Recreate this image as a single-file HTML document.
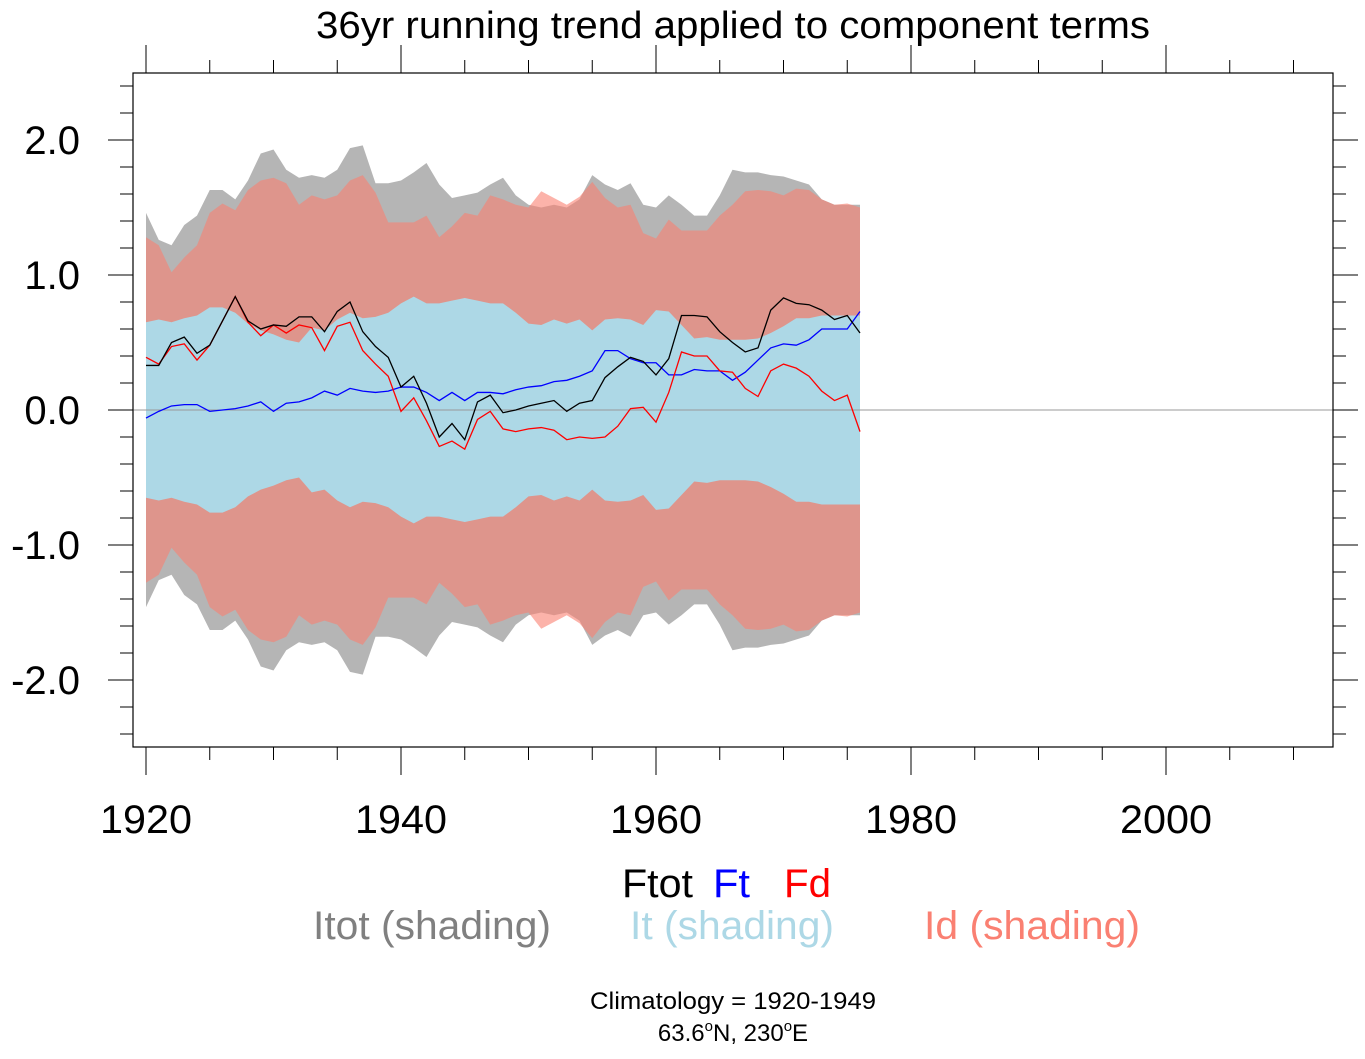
<!DOCTYPE html>
<html><head><meta charset="utf-8"><style>
body{margin:0;background:#fff;width:1365px;height:1054px;overflow:hidden}
svg text{font-family:"Liberation Sans",sans-serif}
</style></head><body>
<svg id="chart" width="1365" height="1054" xmlns="http://www.w3.org/2000/svg">
<text x="733" y="38" font-size="38" text-anchor="middle" textLength="834" lengthAdjust="spacingAndGlyphs">36yr running trend applied to component terms</text>
<g id="bands"></g>
<g id="lines"></g>
<g id="axes"></g>
<g font-size="40">
<text x="622" y="897" fill="#000" textLength="71" lengthAdjust="spacingAndGlyphs">Ftot</text>
<text x="713" y="897" fill="#0000ff" textLength="37" lengthAdjust="spacingAndGlyphs">Ft</text>
<text x="784" y="897" fill="#ff0000" textLength="47" lengthAdjust="spacingAndGlyphs">Fd</text>
<text x="313" y="939" fill="#808080" textLength="238" lengthAdjust="spacingAndGlyphs">Itot (shading)</text>
<text x="630" y="939" fill="#add8e6" textLength="204" lengthAdjust="spacingAndGlyphs">It (shading)</text>
<text x="924" y="939" fill="#fa8072" textLength="216" lengthAdjust="spacingAndGlyphs">Id (shading)</text>
</g>
<text x="733" y="1009" font-size="24" text-anchor="middle" textLength="286" lengthAdjust="spacingAndGlyphs">Climatology = 1920-1949</text>
<text x="733" y="1041" font-size="24" text-anchor="middle">63.6<tspan font-size="15" dy="-10">o</tspan><tspan dy="10">N, 230</tspan><tspan font-size="15" dy="-10">o</tspan><tspan dy="10">E</tspan></text>
</svg>
<script>
const startYear = 1920;
const itot = [1.46,1.26,1.22,1.37,1.44,1.63,1.63,1.56,1.70,1.90,1.93,1.78,1.72,1.74,1.72,1.78,1.94,1.96,1.68,1.68,1.70,1.76,1.83,1.67,1.57,1.59,1.61,1.67,1.72,1.59,1.52,1.50,1.52,1.50,1.56,1.74,1.67,1.63,1.68,1.52,1.50,1.59,1.52,1.44,1.44,1.59,1.78,1.76,1.76,1.74,1.73,1.70,1.67,1.56,1.52,1.52,1.52];
const idv = [1.28,1.22,1.02,1.13,1.22,1.46,1.53,1.48,1.63,1.70,1.72,1.68,1.52,1.59,1.56,1.59,1.70,1.74,1.61,1.39,1.39,1.39,1.44,1.28,1.36,1.46,1.44,1.59,1.56,1.52,1.50,1.62,1.57,1.52,1.58,1.69,1.57,1.50,1.52,1.31,1.27,1.41,1.33,1.33,1.33,1.44,1.52,1.62,1.63,1.62,1.59,1.64,1.63,1.56,1.52,1.53,1.50];
const itv = [0.65,0.67,0.65,0.68,0.70,0.76,0.76,0.72,0.64,0.59,0.56,0.52,0.50,0.61,0.59,0.67,0.72,0.68,0.69,0.72,0.79,0.84,0.79,0.79,0.81,0.83,0.81,0.79,0.79,0.72,0.64,0.63,0.67,0.64,0.67,0.59,0.67,0.68,0.67,0.63,0.74,0.73,0.63,0.53,0.54,0.52,0.52,0.52,0.53,0.57,0.62,0.68,0.68,0.70,0.70,0.70,0.70];
const ftot = [0.33,0.33,0.50,0.54,0.42,0.48,0.66,0.84,0.66,0.60,0.63,0.62,0.69,0.69,0.58,0.73,0.80,0.58,0.47,0.39,0.17,0.25,0.05,-0.20,-0.10,-0.22,0.06,0.11,-0.02,0,0.03,0.05,0.07,-0.01,0.05,0.07,0.24,0.32,0.39,0.36,0.26,0.38,0.70,0.70,0.69,0.58,0.50,0.43,0.46,0.74,0.83,0.79,0.78,0.74,0.67,0.70,0.57];
const ft = [-0.06,-0.01,0.03,0.04,0.04,-0.01,0,0.01,0.03,0.06,-0.01,0.05,0.06,0.09,0.14,0.11,0.16,0.14,0.13,0.14,0.17,0.17,0.13,0.07,0.13,0.07,0.13,0.13,0.12,0.15,0.17,0.18,0.21,0.22,0.25,0.29,0.44,0.44,0.38,0.35,0.35,0.26,0.26,0.30,0.29,0.29,0.22,0.28,0.37,0.46,0.49,0.48,0.52,0.60,0.60,0.60,0.73];
const fd = [0.39,0.34,0.47,0.49,0.37,0.48,0.66,0.84,0.65,0.55,0.63,0.57,0.63,0.61,0.44,0.62,0.65,0.44,0.34,0.25,-0.01,0.09,-0.08,-0.27,-0.23,-0.29,-0.07,-0.01,-0.14,-0.16,-0.14,-0.13,-0.15,-0.22,-0.20,-0.21,-0.20,-0.12,0.01,0.02,-0.09,0.13,0.43,0.40,0.40,0.29,0.28,0.16,0.10,0.29,0.34,0.31,0.25,0.14,0.07,0.11,-0.16];
const yTicks = [-2.0,-1.0,0.0,1.0,2.0];
const yTickLabels = ["-2.0","-1.0","0.0","1.0","2.0"];
const xTicks = [1920,1940,1960,1980,2000];

const L=133,R=1333,T=73,B=747;
const X = yr => 146 + (yr-1920)*12.75;
const Y = v => 410 - v*135;
const NS='http://www.w3.org/2000/svg';
function mk(tag, attrs, parent){const e=document.createElementNS(NS,tag);for(const k in attrs)e.setAttribute(k,attrs[k]);parent.appendChild(e);return e;}
const bands=document.getElementById('bands'), lines=document.getElementById('lines'), axes=document.getElementById('axes');
function band(arr){
  const up=arr.map((v,i)=>X(startYear+i)+','+Y(v));
  const dn=arr.map((v,i)=>X(startYear+i)+','+Y(-v)).reverse();
  return up.concat(dn).join(' ');
}
let p=mk('polygon',{points:band(itot),fill:'#b5b5b5'},bands);


p=mk('polygon',{points:band(idv),fill:'#fa8072','fill-opacity':'0.6'},bands);


p=mk('polygon',{points:band(itv),fill:'#add8e6'},bands);


let z=mk('line',{x1:L,x2:1357,y1:Y(0),y2:Y(0),stroke:'#999','stroke-width':1},lines);


function line(arr,color,name){
  const e=mk('polyline',{points:arr.map((v,i)=>X(startYear+i)+','+Y(v)).join(' '),fill:'none',stroke:color,'stroke-width':1.3},lines);
  
  
}
line(ft,'#0000ff','ft-line');
line(fd,'#ff0000','fd-line');
line(ftot,'#000000','ftot-line');
let fr=mk('rect',{x:L,y:T,width:R-L,height:B-T,fill:'none',stroke:'#000','stroke-width':1.2},axes);


for(let k=-12;k<=12;k++){
  const v=k*0.2, y=Y(v); if(y<T-0.5||y>B+0.5) continue;
  const major=(k%5===0), len=major?25:13;
  mk('line',{x1:L-len,x2:L,y1:y,y2:y,stroke:'#000','stroke-width':1},axes);
  mk('line',{x1:R,x2:R+len,y1:y,y2:y,stroke:'#000','stroke-width':1},axes);
}
yTicks.forEach((v,i)=>{
  const t=mk('text',{x:80,y:Y(v)+14,'font-size':40,'text-anchor':'end'},axes);
  t.textContent=yTickLabels[i];
  
  
});
for(let yr=1920;yr<=2010;yr+=5){
  const x=X(yr), major=(yr%20===0), len=major?28:13;
  mk('line',{x1:x,x2:x,y1:B,y2:B+len,stroke:'#000','stroke-width':1},axes);
  mk('line',{x1:x,x2:x,y1:T-len,y2:T,stroke:'#000','stroke-width':1},axes);
}
xTicks.forEach(yr=>{
  const t=mk('text',{x:X(yr),y:833,'font-size':40,'text-anchor':'middle','textLength':92,'lengthAdjust':'spacingAndGlyphs'},axes);
  t.textContent=String(yr);
  
  
});
</script>
</body></html>
